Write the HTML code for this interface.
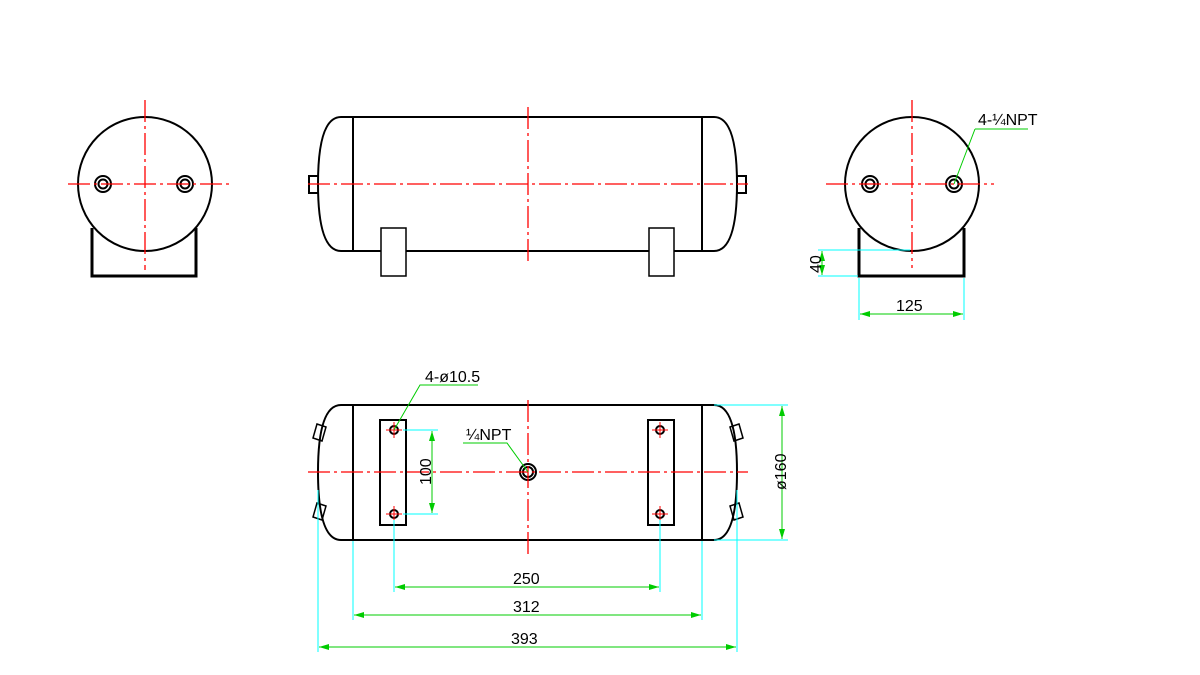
<!DOCTYPE html>
<html><head><style>body{margin:0;background:#fff}svg{display:block}text{font-family:"Liberation Sans",sans-serif;font-size:16px;fill:#000}</style></head><body>
<svg width="1200" height="675" viewBox="0 0 1200 675">
<defs><marker id="a" markerWidth="10" markerHeight="6" refX="10" refY="3" orient="auto-start-reverse"><path d="M0,0L10,3L0,6z" fill="#0c0"/></marker></defs>
<g fill="none" stroke="#000" stroke-width="2">
<path d="M92,228V276H196V228" stroke-width="3"/>
<circle cx="145" cy="184" r="67" fill="#fff"/>
<circle cx="103" cy="184" r="8"/><circle cx="103" cy="184" r="4.5"/>
<circle cx="185" cy="184" r="8"/><circle cx="185" cy="184" r="4.5"/>
<rect x="309" y="176" width="10" height="17"/><rect x="737" y="176" width="9" height="17"/>
<path d="M341,117H714Q737,117 737,184Q737,251 714,251H341Q318,251 318,184Q318,117 341,117Z" fill="#fff"/>
<path d="M353,117V251M702,117V251"/>
<rect x="381" y="228" width="25" height="48" fill="#fff" stroke-width="1.5"/>
<rect x="649" y="228" width="25" height="48" fill="#fff" stroke-width="1.5"/>
<path d="M859,228V276H964V228" stroke-width="3"/>
<circle cx="912" cy="184" r="67" fill="#fff"/>
<circle cx="870" cy="184" r="8"/><circle cx="870" cy="184" r="4.5"/>
<circle cx="954" cy="184" r="8"/><circle cx="954" cy="184" r="4.5"/>
<path d="M317,424l-4,14 9,3 4,-14z M317,503l-4,14 9,3 4,-14z M739,424l4,14 -9,3 -4,-14z M739,503l4,14 -9,3 -4,-14z" stroke-width="1.5" fill="#fff"/>
<path d="M341,405H714Q737,405 737,472Q737,540 714,540H341Q318,540 318,472Q318,405 341,405Z"/>
<path d="M353,405V540M702,405V540"/>
<rect x="380" y="420" width="26" height="105"/><rect x="648" y="420" width="26" height="105"/>
<circle cx="394" cy="430" r="4"/><circle cx="394" cy="514" r="4"/><circle cx="660" cy="430" r="4"/><circle cx="660" cy="514" r="4"/>
<circle cx="528" cy="472" r="8"/><circle cx="528" cy="472" r="5"/>
</g>
<g stroke="#f00" stroke-width="1.3" stroke-dasharray="22,4,3,4" fill="none">
<path d="M145,100V270M68,184H232"/>
<path d="M528,107V263M308,184H748"/>
<path d="M912,100V268M826,184H994"/>
<path d="M528,400V555M308,472H748"/>
</g>
<g stroke="#f00" stroke-width="1" fill="none">
<path d="M386,430h16M394,422v16M386,514h16M394,506v16M652,430h16M660,422v16M652,514h16M660,506v16"/>
</g>
<g stroke="#0ff" stroke-width="1" fill="none">
<path d="M818,250H910M818,276H858M859,278V320M964,278V320"/>
<path d="M403,430H438M403,514H438M714,405H788M714,540H788"/>
<path d="M394,520V592M660,520V592M353,541V620M702,541V620M318,490V652M737,490V652"/>
</g>
<g stroke="#0c0" stroke-width="1" fill="none">
<path d="M822,251V275" marker-start="url(#a)" marker-end="url(#a)"/>
<path d="M860,314H963" marker-start="url(#a)" marker-end="url(#a)"/>
<path d="M975,129H1028M975,129L954,184"/>
<path d="M432,431V513" marker-start="url(#a)" marker-end="url(#a)"/>
<path d="M782,406V539" marker-start="url(#a)" marker-end="url(#a)"/>
<path d="M395,587H659" marker-start="url(#a)" marker-end="url(#a)"/>
<path d="M354,615H701" marker-start="url(#a)" marker-end="url(#a)"/>
<path d="M319,647H736" marker-start="url(#a)" marker-end="url(#a)"/>
<path d="M478,385H420L394,430M463,443H507L528,472"/>
</g>
<text x="978" y="125">4-¼NPT</text>
<text x="896" y="311">125</text>
<text transform="translate(821,273) rotate(-90)">40</text>
<text x="425" y="382">4-ø10.5</text>
<text x="466" y="440">¼NPT</text>
<text transform="translate(431,485) rotate(-90)">100</text>
<text transform="translate(786,490) rotate(-90)">ø160</text>
<text x="513" y="584">250</text>
<text x="513" y="612">312</text>
<text x="511" y="644">393</text>
</svg>
</body></html>
